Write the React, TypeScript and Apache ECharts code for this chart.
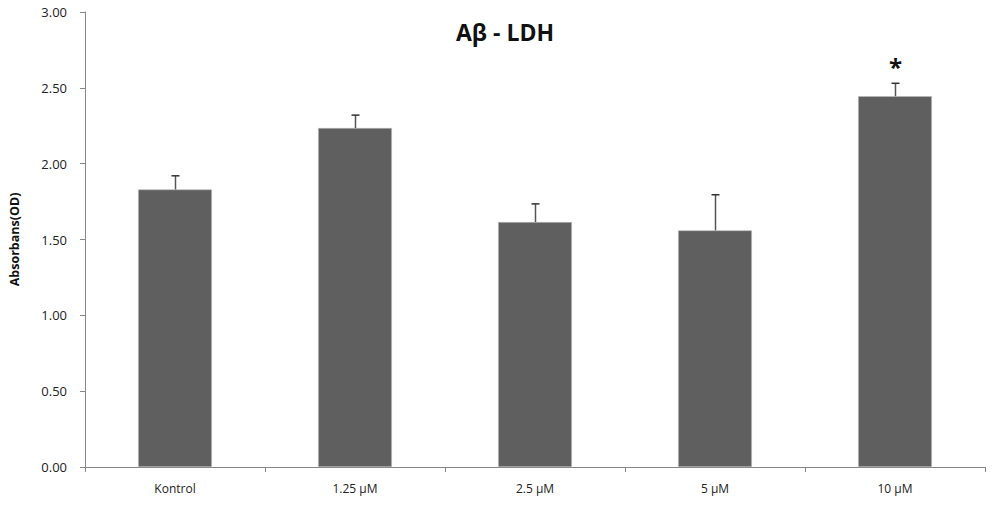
import React, { useEffect, useRef } from "react";
import * as echarts from "echarts";

const categories = ["Kontrol", "1.25 µM", "2.5 µM", "5 µM", "10 µM"];
const means = [1.83, 2.235, 1.615, 1.56, 2.445];
const errors = [0.09, 0.085, 0.12, 0.235, 0.085];
const significance = ["", "", "", "", "*"];
const yTicks = { min: 0, max: 3, interval: 0.5 };

export default function App() {
  const ref = useRef<HTMLDivElement>(null);
  useEffect(() => {
    if (!ref.current) return;
    const chart = echarts.init(ref.current, null, { renderer: "svg" });
    const font = "'Open Sans', 'Liberation Sans', sans-serif";
    chart.setOption({
      animation: false,
      title: {
        text: "Aβ - LDH",
        left: 500,
        textAlign: "center",
        top: 15,
        textStyle: { fontFamily: font, fontWeight: "bold", fontSize: 23, color: "#111" },
      },
      grid: { left: 82, right: 16, top: 12, bottom: 41 },
      xAxis: {
        type: "category",
        data: categories,
        axisLine: { lineStyle: { color: "#868686", width: 1 } },
        axisTick: { show: true, length: 5, lineStyle: { color: "#868686" } },
        axisLabel: { fontFamily: font, fontSize: 12, color: "#222", margin: 15 },
      },
      yAxis: {
        type: "value",
        min: yTicks.min,
        max: yTicks.max,
        interval: yTicks.interval,
        name: "Absorbans(OD)",
        nameLocation: "middle",
        nameGap: 64,
        nameTextStyle: { fontFamily: font, fontWeight: "bold", fontSize: 12.5, color: "#111" },
        splitLine: { show: false },
        axisLine: { show: true, lineStyle: { color: "#868686", width: 1 } },
        axisTick: { show: true, length: 5, lineStyle: { color: "#868686" } },
        axisLabel: {
          fontFamily: font,
          fontSize: 13,
          color: "#222",
          margin: 18,
          formatter: (v: number) => v.toFixed(2),
        },
      },
      series: [
        {
          type: "bar",
          data: means,
          barWidth: "41%",
          itemStyle: { color: "#5f5f5f", borderColor: "#bbbbbb", borderWidth: 0.6 },
          z: 2,
        },
        {
          type: "custom",
          data: means.map((m, i) => [i, m, m + errors[i]]),
          z: 3,
          renderItem: (params: any, api: any) => {
            const i = api.value(0);
            const base = api.coord([i, api.value(1)]);
            const top = api.coord([i, api.value(2)]);
            const x = Math.round(base[0]) + 0.5;
            const children: any[] = [
              { type: "line", shape: { x1: x, y1: base[1], x2: x, y2: top[1] }, style: { stroke: "#555", lineWidth: 1.5 } },
              { type: "line", shape: { x1: x - 4, y1: top[1], x2: x + 4, y2: top[1] }, style: { stroke: "#333", lineWidth: 1.5 } },
            ];
            const sig = significance[params.dataIndex];
            if (sig) {
              children.push({
                type: "text",
                x: x,
                y: top[1] - 5,
                style: {
                  text: sig,
                  fontSize: 24,
                  fontWeight: "bold",
                  fontFamily: font,
                  fill: "#111",
                  align: "center",
                  verticalAlign: "bottom",
                },
              });
            }
            return { type: "group", children };
          },
        },
      ],
    });
    return () => chart.dispose();
  }, []);
  return <div ref={ref} style={{ width: 1001, height: 508, margin: -8 }} />;
}
